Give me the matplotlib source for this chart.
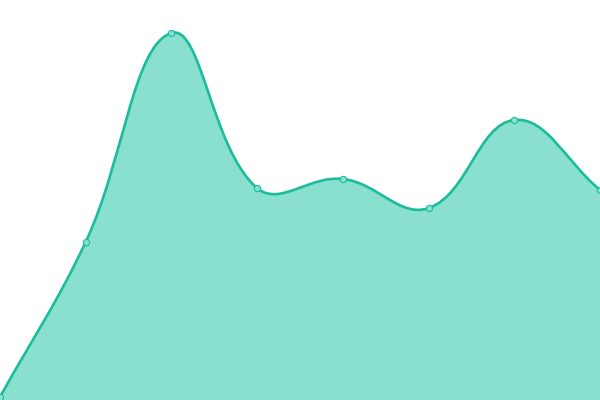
import numpy as np
import matplotlib
matplotlib.use("Agg")
import matplotlib.pyplot as plt
from matplotlib.path import Path
from matplotlib.patches import PathPatch

# values
xs = [0, 1, 2, 3, 4, 5, 6, 7]
values = [0, 42.6, 100, 57.4, 59.9, 51.9, 76.1, 56.9]

line_color = "#1abc9c"
fill_color = "#8ae0cf"
tension = 0.4

xlim = (0, 7)
ylim = (-0.82, 109.07)

fig = plt.figure(figsize=(6, 4), dpi=100)
ax = fig.add_axes([0, 0, 1, 1])
ax.set_xlim(*xlim)
ax.set_ylim(*ylim)
ax.axis("off")

# pixel scale, used for the spline distances
sx = 600 / (xlim[1] - xlim[0])
sy = 400 / (ylim[1] - ylim[0])
pts = np.array([[x * sx, y * sy] for x, y in zip(xs, values)])

n = len(pts)
c_prev = pts.copy()
c_next = pts.copy()
for i in range(n):
    prev = pts[i - 1] if i > 0 else pts[i]
    nxt = pts[i + 1] if i < n - 1 else pts[i]
    d01 = np.hypot(*(pts[i] - prev))
    d12 = np.hypot(*(nxt - pts[i]))
    tot = d01 + d12
    s01 = d01 / tot if tot else 0
    s12 = d12 / tot if tot else 0
    c_prev[i] = pts[i] - tension * s01 * (nxt - prev)
    c_next[i] = pts[i] + tension * s12 * (nxt - prev)

verts = [pts[0]]
codes = [Path.MOVETO]
for i in range(n - 1):
    verts += [c_next[i], c_prev[i + 1], pts[i + 1]]
    codes += [Path.CURVE4] * 3
verts = np.array(verts) / [sx, sy]

fill_verts = np.vstack([verts, [[xs[-1], ylim[0] - 1], [xs[0], ylim[0] - 1], verts[0]]])
fill_codes = codes + [Path.LINETO, Path.LINETO, Path.CLOSEPOLY]

ax.add_patch(PathPatch(Path(fill_verts, fill_codes), facecolor=fill_color, edgecolor="none"))
ax.add_patch(PathPatch(Path(verts, codes), facecolor="none", edgecolor=line_color, lw=1.9))
ax.plot(xs, values, "o", ms=4.5, mfc=fill_color, mec=line_color, mew=0.8, clip_on=False)

fig.savefig("out.png", dpi=100)
